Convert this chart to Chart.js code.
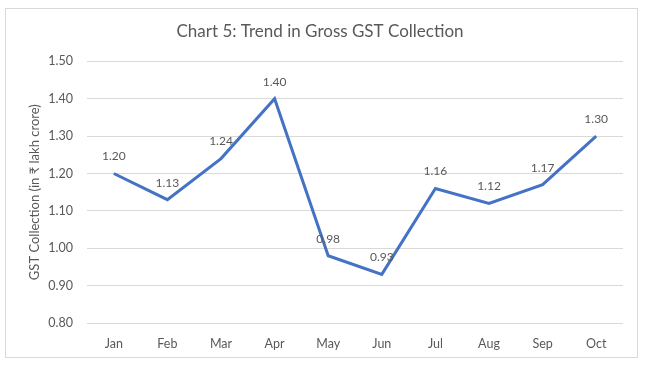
<!DOCTYPE html>
<html>
<head>
<meta charset="utf-8">
<script src="https://cdn.jsdelivr.net/npm/chart.js@4"></script>
<style>
html,body{margin:0;padding:0;background:#fff;}
#wrap{position:relative;width:650px;height:371px;}
</style>
</head>
<body>
<div id="wrap"><canvas id="c" width="650" height="371"></canvas></div>
<script>
const months = ['Jan','Feb','Mar','Apr','May','Jun','Jul','Aug','Sep','Oct'];
const gstCollection = [1.20, 1.13, 1.24, 1.40, 0.98, 0.93, 1.16, 1.12, 1.17, 1.30];
const chartTitle = 'Chart 5: Trend in Gross GST Collection';
const yAxisTitle = 'GST Collection (in \u20B9 lakh crore)';

const FONT = "Lato, 'Noto Sans', 'DejaVu Sans', sans-serif";
const GREY = '#595959';

const frame = {
  id: 'frame',
  beforeDraw(chart) {
    const ctx = chart.ctx;
    ctx.save();
    ctx.fillStyle = '#ffffff';
    ctx.fillRect(0, 0, chart.width, chart.height);
    ctx.strokeStyle = '#d9d9d9';
    ctx.lineWidth = 1;
    ctx.strokeRect(5.5, 8.5, 632, 349);
    ctx.restore();
  }
};

const dataLabels = {
  id: 'dataLabels',
  afterDatasetsDraw(chart) {
    const ctx = chart.ctx;
    const meta = chart.getDatasetMeta(0);
    ctx.save();
    ctx.font = '12px ' + FONT;
    ctx.fillStyle = GREY;
    ctx.textAlign = 'center';
    ctx.textBaseline = 'middle';
    meta.data.forEach((pt, i) => {
      ctx.fillText(gstCollection[i].toFixed(2), pt.x, pt.y - 17);
    });
    ctx.restore();
  }
};

new Chart(document.getElementById('c'), {
  type: 'line',
  data: {
    labels: months,
    datasets: [{
      data: gstCollection,
      borderColor: '#4472C4',
      borderWidth: 3,
      pointRadius: 0,
      tension: 0,
      fill: false
    }]
  },
  options: {
    responsive: false,
    animation: false,
    layout: { padding: { left: 17, right: 27, top: 0, bottom: 0 } },
    plugins: {
      legend: { display: false },
      tooltip: { enabled: false },
      title: {
        display: true,
        text: chartTitle,
        color: GREY,
        font: { family: FONT, size: 17, weight: 'normal' },
        padding: { top: 21, bottom: 20 }
      }
    },
    scales: {
      x: {
        offset: true,
        grid: { display: false, drawTicks: false },
        border: { display: false },
        ticks: { color: GREY, font: { family: FONT, size: 12.5 }, padding: 13 },
        afterFit(scale) { scale.height = 48; }
      },
      y: {
        min: 0.8,
        max: 1.5,
        grid: { color: '#d9d9d9', lineWidth: 1, drawTicks: false },
        border: { display: false },
        ticks: {
          stepSize: 0.1,
          color: GREY,
          font: { family: FONT, size: 12.5 },
          padding: 14,
          callback: (v) => Number(v).toFixed(2)
        },
        title: {
          display: true,
          text: yAxisTitle,
          color: GREY,
          font: { family: FONT, size: 13 },
          padding: { top: 10, bottom: 0 }
        },
        afterFit(scale) { scale.width = 70; }
      }
    }
  },
  plugins: [frame, dataLabels]
});
</script>
</body>
</html>
